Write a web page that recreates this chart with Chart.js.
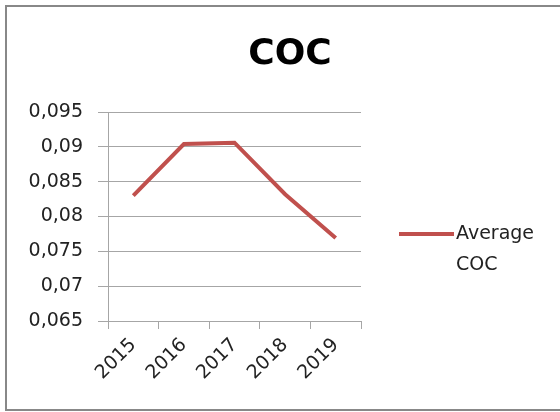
<!DOCTYPE html>
<html>
<head>
<meta charset="utf-8">
<script src="https://cdn.jsdelivr.net/npm/chart.js@4.4.1/dist/chart.umd.min.js"></script>
<style>
html,body{margin:0;padding:0;background:#fff;overflow:hidden;}
#wrap{width:560px;height:412px;position:relative;}
canvas{display:block;}
</style>
</head>
<body>
<div id="wrap"><canvas id="c" width="560" height="412"></canvas></div>
<script>
const chartTitle = 'COC';
const categories = ['2015', '2016', '2017', '2018', '2019'];
const seriesName = ['Average', 'COC'];
const averageCOC = [0.0830, 0.0904, 0.0906, 0.0832, 0.0769];
const yTickValues = [0.065, 0.07, 0.075, 0.08, 0.085, 0.09, 0.095];
const yTickLabels = ['0,065', '0,07', '0,075', '0,08', '0,085', '0,09', '0,095'];

const FONT = '"DejaVu Sans", sans-serif';
const LINE_COLOR = '#c0504d';
const GRID = '#a6a6a6';

const decor = {
  id: 'decor',
  afterDraw(chart) {
    const ctx = chart.ctx;
    ctx.save();
    // outer frame (left, top, bottom only; right edge is off-canvas)
    ctx.strokeStyle = '#888888';
    ctx.lineWidth = 2;
    ctx.beginPath();
    ctx.moveTo(560, 6);
    ctx.lineTo(6, 6);
    ctx.lineTo(6, 410);
    ctx.lineTo(560, 410);
    ctx.stroke();
    // title
    ctx.fillStyle = '#000';
    ctx.font = 'bold 36px ' + FONT;
    ctx.textAlign = 'center';
    ctx.textBaseline = 'middle';
    ctx.fillText(chartTitle, 290, 55);
    // legend
    const ds = chart.data.datasets[0];
    ctx.strokeStyle = ds.borderColor;
    ctx.lineWidth = 4;
    ctx.beginPath();
    ctx.moveTo(399, 234);
    ctx.lineTo(454, 234);
    ctx.stroke();
    ctx.fillStyle = '#222';
    ctx.font = '19px ' + FONT;
    ctx.textAlign = 'left';
    ctx.textBaseline = 'middle';
    ds.label.forEach((t, i) => ctx.fillText(t, 456, 234 + i * 31));
    ctx.restore();
  }
};

new Chart(document.getElementById('c'), {
  type: 'line',
  data: {
    labels: categories,
    datasets: [{
      label: seriesName,
      data: averageCOC,
      borderColor: LINE_COLOR,
      backgroundColor: LINE_COLOR,
      borderWidth: 4,
      pointRadius: 0,
      tension: 0,
      fill: false
    }]
  },
  options: {
    responsive: false,
    animation: false,
    layout: { padding: { top: 112, left: 0, right: 199, bottom: 0 } },
    plugins: { legend: { display: false }, title: { display: false }, tooltip: { enabled: false } },
    scales: {
      x: {
        offset: true,
        grid: { display: true, drawOnChartArea: false, drawTicks: true, tickLength: 8, offset: true, color: GRID, lineWidth: 1 },
        border: { display: true, color: GRID, width: 1 },
        ticks: { color: '#222', font: { family: FONT, size: 19 }, minRotation: 45, maxRotation: 45, padding: 5, autoSkip: false },
        afterFit(scale) { scale.height = 91; }
      },
      y: {
        min: 0.065, max: 0.095,
        afterBuildTicks(scale) { scale.ticks = yTickValues.map(v => ({ value: v })); },
        grid: { color: GRID, lineWidth: 1, drawTicks: true, tickLength: 10 },
        border: { display: true, color: GRID, width: 1 },
        ticks: {
          color: '#222', font: { family: FONT, size: 19 }, padding: 15,
          callback(value) {
            const i = yTickValues.findIndex(v => Math.abs(v - value) < 1e-9);
            return i >= 0 ? yTickLabels[i] : '';
          }
        },
        afterFit(scale) { scale.width = 108; }
      }
    }
  },
  plugins: [decor]
});
</script>
</body>
</html>
